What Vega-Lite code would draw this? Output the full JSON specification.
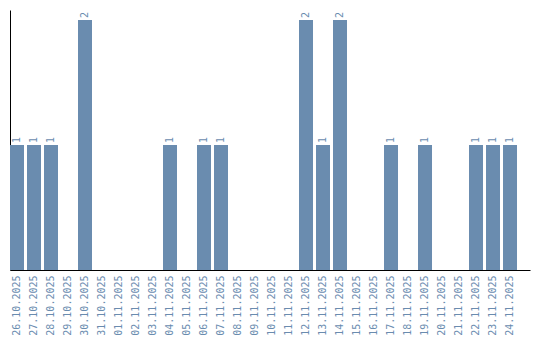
{
  "$schema": "https://vega.github.io/schema/vega-lite/v6.json",
  "autosize": {"type": "none"},
  "padding": {"left": 10, "top": 10, "right": 10, "bottom": 70},
  "width": 520,
  "height": 260,
  "background": "white",
  "config": {"view": {"stroke": null}},
  "data": {
    "values": [
      {"date": "26.10.2025", "count": 1},
      {"date": "27.10.2025", "count": 1},
      {"date": "28.10.2025", "count": 1},
      {"date": "29.10.2025", "count": 0},
      {"date": "30.10.2025", "count": 2},
      {"date": "31.10.2025", "count": 0},
      {"date": "01.11.2025", "count": 0},
      {"date": "02.11.2025", "count": 0},
      {"date": "03.11.2025", "count": 0},
      {"date": "04.11.2025", "count": 1},
      {"date": "05.11.2025", "count": 0},
      {"date": "06.11.2025", "count": 1},
      {"date": "07.11.2025", "count": 1},
      {"date": "08.11.2025", "count": 0},
      {"date": "09.11.2025", "count": 0},
      {"date": "10.11.2025", "count": 0},
      {"date": "11.11.2025", "count": 0},
      {"date": "12.11.2025", "count": 2},
      {"date": "13.11.2025", "count": 1},
      {"date": "14.11.2025", "count": 2},
      {"date": "15.11.2025", "count": 0},
      {"date": "16.11.2025", "count": 0},
      {"date": "17.11.2025", "count": 1},
      {"date": "18.11.2025", "count": 0},
      {"date": "19.11.2025", "count": 1},
      {"date": "20.11.2025", "count": 0},
      {"date": "21.11.2025", "count": 0},
      {"date": "22.11.2025", "count": 1},
      {"date": "23.11.2025", "count": 1},
      {"date": "24.11.2025", "count": 1}
    ]
  },
  "encoding": {
    "x": {
      "field": "date",
      "type": "ordinal",
      "sort": null,
      "scale": {"paddingInner": 0.1765, "paddingOuter": 0.382, "align": 0},
      "axis": {
        "title": null,
        "labelAngle": 270,
        "labelAlign": "right",
        "labelBaseline": "middle",
        "labelFont": "DejaVu Sans Mono",
        "labelFontSize": 10,
        "labelColor": "#6a8caf",
        "labelPadding": 5,
        "ticks": false,
        "domainColor": "#000000",
        "domainWidth": 1,
        "grid": false
      }
    },
    "y": {
      "field": "count",
      "type": "quantitative",
      "scale": {"domain": [0, 2.08], "nice": false, "zero": true},
      "axis": {
        "title": null,
        "labels": false,
        "ticks": false,
        "grid": false,
        "domainColor": "#000000",
        "domainWidth": 1
      }
    }
  },
  "layer": [
    {"mark": {"type": "bar", "color": "#6a8caf"}},
    {
      "transform": [{"filter": "datum.count > 0"}],
      "mark": {
        "type": "text",
        "angle": 270,
        "align": "left",
        "baseline": "middle",
        "dx": 2,
        "font": "DejaVu Sans Mono",
        "fontSize": 10,
        "color": "#6a8caf"
      },
      "encoding": {"text": {"field": "count", "type": "quantitative"}}
    }
  ]
}
